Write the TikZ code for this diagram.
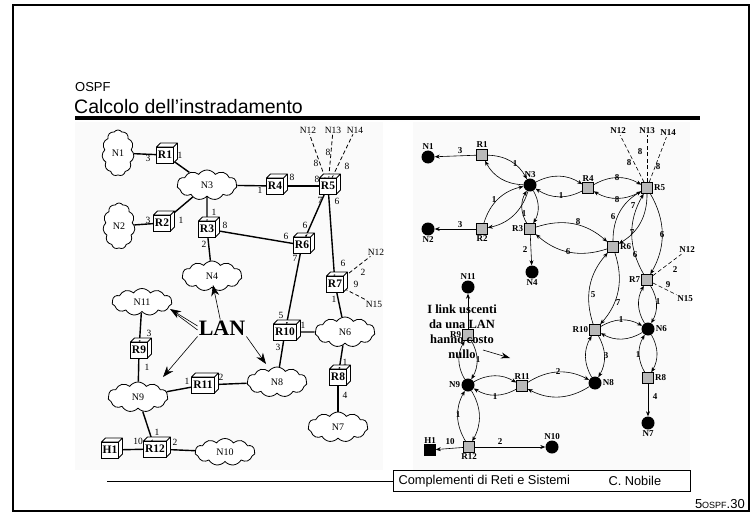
\documentclass[tikz,border=0pt]{standalone}
\usepackage{fontspec}
\setmainfont{Liberation Sans}
\newfontfamily\tms{Liberation Serif}
\usetikzlibrary{arrows.meta,shapes.symbols,backgrounds}

\tikzset{
  lan/.style={cloud, cloud puffs=11, cloud puff arc=110, aspect=1.9, draw, thick, fill=white,
    font=\tms\fontsize{10}{10}\selectfont, inner sep=0pt, minimum width=60, minimum height=30},
  tallan/.style={lan, aspect=0.7, minimum width=32, minimum height=46},
  rbox/.style={draw, thick, fill=white, font=\tms\bfseries\fontsize{11.5}{12}\selectfont, inner sep=0pt, minimum height=16},
  link/.style={line width=1.4pt},
  stub/.style={thick, dash pattern=on 4pt off 2.5pt},
  cost/.style={font=\tms\fontsize{9.5}{9.5}\selectfont, inner sep=1pt},
  net/.style={circle, fill=black, inner sep=0pt, minimum size=13},
  rt/.style={draw, semithick, fill=gray!55, inner sep=0pt, minimum size=11},
  tag/.style={font=\tms\bfseries\fontsize{9}{9}\selectfont, inner sep=1pt},
  dirlink/.style={-{Stealth[length=5pt,width=4pt]}, semithick},
  lanarrow/.style={-{Stealth[length=11pt,width=8pt]}, semithick},
}

\begin{document}
\begin{tikzpicture}[x=1pt,y=-1pt]
  \useasboundingbox (0,0) rectangle (751,513);
  % slide frame and header
  \draw[line width=1.2pt] (13,5) rectangle (749,511);
  \node[anchor=base west, inner sep=0pt, font=\fontsize{13}{13}\selectfont] (kicker) at (75,92) {OSPF};
  \node[anchor=base west, inner sep=0pt, font=\fontsize{19.5}{20}\selectfont] (title) at (74,114) {Calcolo dell’instradamento};
  \draw[line width=3.5pt] (75,118) -- (700,118);

  % left picture: networks (clouds)
  \node[tallan] (N1) at (118,153) {N1};
  \node[tallan] (N2) at (119,226) {N2};
  \node[lan] (N3) at (207,185) {N3};
  \node[lan] (N4) at (212,276) {N4};
  \node[lan, minimum height=27] (N11) at (142,302) {N11};
  \node[lan] (N6) at (345,332) {N6};
  \node[lan] (N8) at (277,382) {N8};
  \node[lan] (N7) at (338,427) {N7};
  \node[lan] (N9) at (138,397) {N9};
  \node[lan, minimum height=27] (N10) at (225,452) {N10};

  % left picture: routers (3D boxes)
  \foreach \n/\x/\y/\w in {R1/165/155/17, R2/162/223/17, R3/207/229/17, R4/275/186/17, R5/328/186/17,
      R6/302/245/17, R7/335/284/17, R8/338/377/17, R9/139/350/17, R10/285/332/23, R11/203/385/23,
      R12/155/449/23, H1/110/450/17}{
    \draw[thick, fill=white, line join=round] (\x-\w/2,\y-8) -- ++(4,-4) -- ++(\w,0) -- ++(0,16)
      -- ++(-4,4) -- ++(0,-16) -- cycle -- ++(\w,0) -- ++(4,-4);
    \node[rbox, minimum width=\w] (\n) at (\x,\y) {\n};
  }

  % left picture: stub networks
  \node[cost] (a12) at (308,130) {N12};
  \node[cost] (a13) at (333,130) {N13};
  \node[cost] (a14) at (355,130) {N14};
  \node[cost] (a12b) at (376,252) {N12};
  \node[cost] (a15) at (374,304) {N15};

  \begin{scope}[on background layer]
    % scanned pictures
    \fill[gray!4] (75,122) rectangle (383,470);
    \fill[gray!4] (413,122) rectangle (690,470);
    % links
    \foreach \a/\b in {N1/R1, R1/N3, N3/R2, R2/N2, N3/R3, R3/N4, N3/R4, R4/R5, R3/R6, R5/R6, R5/R7,
        R6/R10, R7/N6, R10/N6, R10/N8, N6/R8, R8/N7, N11/R9, R9/N9, N9/R11, R11/N8, N9/R12, H1/R12, R12/N10}
      \draw[link] (\a) -- (\b);
    \foreach \s in {a12, a13, a14} \draw[stub] (R5) -- (\s);
    \foreach \s in {a12b, a15} \draw[stub] (R7) -- (\s);
  \end{scope}

  % left picture: costs
  \foreach \x/\y/\c in {148/158/3, 180/155/1, 148/220/3, 181/220/1, 214/212/1, 225/225/8, 204/244/2,
      260/190/1, 292/177/8, 317/179/8, 316/163/8, 328/152/8, 347/166/8, 320/200/7, 337/201/6,
      286/236/6, 305/225/6, 295/258/7, 343/263/6, 363/272/2, 356/284/9, 334/299/1, 281/315/5,
      303/325/1, 278/347/3, 345/362/1, 345/395/4, 149/333/3, 147/367/1, 187/381/1, 221/377/2,
      157/432/1, 138/441/10, 175/442/2}
    \node[cost] (lc\x\y) at (\x,\y) {\c};

  % LAN annotation
  \node[inner sep=1pt, font=\tms\bfseries\fontsize{22}{22}\selectfont] (lanlbl) at (222,328) {LAN};
  \coordinate (tN4) at (213,285);
  \coordinate (tN11) at (170,309);
  \coordinate (tN9) at (163,377);
  \coordinate (tN8) at (266,364);
  \draw[lanarrow] (lanlbl) -- (tN4);
  \draw[lanarrow] ([yshift=2pt]lanlbl.west) -- (tN11);
  \draw[semithick] ([yshift=-2pt]lanlbl.west) -- ([xshift=6pt,yshift=-5pt]tN11);
  \draw[lanarrow] (lanlbl.south west) -- (tN9);
  \draw[lanarrow] (lanlbl.south east) -- (tN8);

  % right picture: networks and routers
  \foreach \n/\x/\y/\d in {N1/428/157/above, N2/428/229/below, N3/530/185/above, N4/532/272/below,
      N11/468/287/above, N6/648/329/right, N8/595/383/right, N7/648/423/below, N9/468/385/left,
      N10/552/447/above}
    \node[net, label={[tag]\d:\n}] (s\n) at (\x,\y) {};
  \foreach \n/\x/\y/\d in {R1/482/155/above, R2/482/229/below, R3/530/229/left, R4/588/188/above,
      R5/647/188/right, R6/613/247/right, R7/647/280/left, R8/648/378/right, R9/468/335/left,
      R10/595/330/left, R11/522/386/above, R12/469/447/below}
    \node[rt, label={[tag]\d:\n}] (s\n) at (\x,\y) {};
  \node[rt, fill=black, label={[tag]above:H1}] (sH1) at (430,450) {};

  \node[tag] (b12) at (618,131) {N12};
  \node[tag] (b13) at (647,131) {N13};
  \node[tag] (b14) at (668,133) {N14};
  \node[tag] (b12b) at (687,250) {N12};
  \node[tag] (b15) at (685,299) {N15};
  \foreach \s in {b12, b13, b14} \draw[stub, semithick] (sR5) -- (\s);
  \foreach \s in {b12b, b15} \draw[stub, semithick] (sR7) -- (\s);

  % right picture: directed arcs
  \foreach \a/\b in {sR1/sN3, sR2/sN3, sN3/sR3, sN3/sR4, sR4/sR5, sR3/sR6, sR5/sR6, sR5/sR7,
      sR6/sR10, sR7/sN6, sR10/sN6, sR10/sN8, sN6/sR8, sR9/sN9, sN9/sR11, sR11/sN8, sN9/sR12}{
    \draw[dirlink] (\a) to[bend left=30] (\b);
    \draw[dirlink] (\b) to[bend left=30] (\a);
  }
  \foreach \a/\b in {sR1/sN1, sR2/sN2, sR3/sN4, sR8/sN7, sR9/sN11, sR12/sH1, sR12/sN10}
    \draw[dirlink] (\a) -- (\b);

  % right picture: costs
  \foreach \x/\y/\c in {460/151/3, 515/164/1, 460/225/3, 494/200/1, 524/214/1, 525/250/2, 561/196/1,
      617/178/8, 617/200/8, 629/163/8, 640/152/8, 658/167/8, 613/217/6, 633/206/7, 632/233/7,
      578/222/8, 568/252/6, 635/255/6, 662/235/6, 675/270/2, 668/285/9, 593/295/5, 618/303/7,
      621/320/1, 658/302/1, 606/356/3, 638/355/1, 655/397/4, 558/372/2, 478/360/1, 495/397/1,
      458/415/1, 450/442/10, 500/442/2}
    \node[tag] (rc\x\y) at (\x,\y) {\c};

  % note on LAN links
  \node[align=center, inner sep=0pt, font=\tms\bfseries\fontsize{12.5}{15}\selectfont] (note) at (462,332)
    {I link uscenti\\da una LAN\\hanno costo\\nullo};
  \coordinate (ns) at (483,350);
  \coordinate (ne) at (510,358);
  \draw[-{Stealth[length=9pt,width=6pt]}, semithick] (ns) -- (ne);

  % footer
  \node[draw, semithick, minimum width=297, minimum height=21, inner sep=0pt] (foot) at (541.5,481) {};
  \draw[semithick] (foot.west) -- ++(-286,0);
  \node[anchor=west, font=\fontsize{12.8}{13}\selectfont] (course) at (395,481) {Complementi di Reti e Sistemi};
  \node[anchor=west, font=\fontsize{12.8}{13}\selectfont] (author) at (605,481) {C. Nobile};
  \node[anchor=base east, inner sep=0pt, font=\fontsize{13}{13}\selectfont] (pgno) at (745,508)
    {5{\fontsize{9}{9}\selectfont OSPF}.30};
\end{tikzpicture}
\end{document}
